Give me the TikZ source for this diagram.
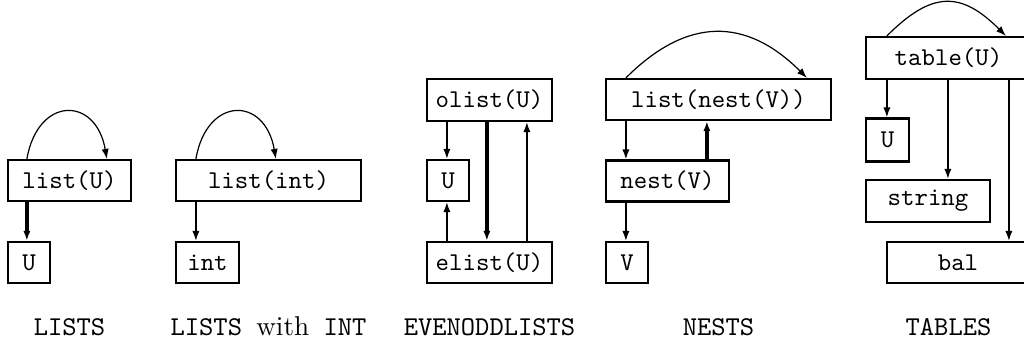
\documentclass[tikz,border=0pt]{standalone}
\usetikzlibrary{calc,arrows.meta}
\newcommand\bt[1]{\scalebox{1.28}{\fontsize{10}{12}\selectfont\ttfamily #1}}
\newcommand\lt[1]{\scalebox{1.36}{\fontsize{10}{12}\selectfont\ttfamily #1}}
\tikzset{
  box/.style={draw, line width=1.1pt, rectangle, inner sep=0pt, minimum height=20.5pt},
  lbl/.style={anchor=base, inner sep=0pt},
  thinarr/.style={-{Latex[length=5pt,width=3.6pt]}, line width=0.75pt},
  thickarr/.style={-{Latex[length=5pt,width=3.6pt]}, line width=1.6pt},
  looparr/.style={-{Latex[length=5pt,width=3.6pt]}, line width=0.6pt},
}
\begin{document}
\begin{tikzpicture}[x=0.5pt,y=-0.5pt]
\useasboundingbox (0,0) rectangle (1024,343);
\clip (0,0) rectangle (1024,343);
% LISTS
\node[box, minimum width=61.5pt] (listU) at (69.5,180.5) {\bt{list(U)}};
\node[box, minimum width=21pt] (U1) at (29,262.5) {\bt{U}};
\draw[thickarr] ($(listU.south west)+(20,0)$) -- ($(U1.north west)+(20,0)$);
\draw[looparr] ($(listU.north west)+(20,0)$) .. controls ($(listU.north west)+(31,-63)$) and ($(listU.north west)+(89,-63)$) .. ($(listU.north west)+(100,0)$);
\node[lbl] (l1) at (69.5,335) {\lt{LISTS}};
% LISTS with INT
\node[box, minimum width=92.5pt] (listint) at (268.5,180.5) {\bt{list(int)}};
\node[box, minimum width=31.5pt] (int) at (207.5,262.5) {\bt{int}};
\draw[thinarr] ($(listint.south west)+(21,0)$) -- ($(int.north west)+(21,0)$);
\draw[looparr] ($(listint.north west)+(21,0)$) .. controls ($(listint.north west)+(32,-63)$) and ($(listint.north west)+(90,-63)$) .. ($(listint.north west)+(101,0)$);
\node[lbl] (l2) at (268.5,335) {\lt{LISTS \textrm{with} INT}};
% EVENODDLISTS
\node[box, minimum width=62.5pt, minimum height=21pt] (olist) at (489.5,100) {\bt{olist(U)}};
\node[box, minimum width=21pt] (U2) at (448,180.5) {\bt{U}};
\node[box, minimum width=62.5pt] (elist) at (489.5,262.5) {\bt{elist(U)}};
\draw[thinarr] ($(olist.south west)+(21,0)$) -- ($(U2.north west)+(21,0)$);
\draw[thinarr] ($(elist.north west)+(21,0)$) -- ($(U2.south west)+(21,0)$);
\draw[thickarr] ($(olist.south west)+(61,0)$) -- ($(elist.north west)+(61,0)$);
\draw[thinarr] ($(elist.north west)+(101,0)$) -- ($(olist.south west)+(101,0)$);
\node[lbl] (l3) at (489.5,335) {\lt{EVENODDLISTS}};
% NESTS
\node[box, minimum width=112.5pt] (listnest) at (718.5,99.5) {\bt{list(nest(V))}};
\node[box, minimum width=61.5pt] (nest) at (667.5,181) {\bt{nest(V)}};
\node[box, minimum width=21pt] (V) at (627,262.5) {\bt{V}};
\draw[thinarr] ($(listnest.south west)+(21,0)$) -- ($(nest.north west)+(21,0)$);
\draw[thickarr] ($(nest.north west)+(102,0)$) -- ($(listnest.south west)+(102,0)$);
\draw[thinarr] ($(nest.south west)+(21,0)$) -- ($(V.north west)+(21,0)$);
\draw[looparr] ($(listnest.north west)+(21,0)$) .. controls ($(listnest.north west)+(82,-61)$) and ($(listnest.north west)+(141,-61)$) .. ($(listnest.north west)+(202,0)$);
\node[lbl] (l4) at (718.5,335) {\lt{NESTS}};
% TABLES
\node[box, minimum width=82.5pt, minimum height=21pt] (table) at (948.5,58) {\bt{table(U)}};
\node[box, minimum width=21.5pt, minimum height=21.5pt] (U3) at (887.5,140) {\bt{U}};
\node[box, minimum width=62pt, minimum height=21pt] (string) at (928,201) {\bt{string}};
\node[box, minimum width=71pt] (bal) at (958,262.5) {\bt{bal}};
\draw[thinarr] ($(table.south west)+(22,0)$) -- ($(U3.north west)+(22,0)$);
\draw[thinarr] ($(table.south west)+(83,0)$) coordinate (t2) -- (t2 |- string.north);
\draw[thinarr] ($(table.south west)+(144,0)$) coordinate (t3) -- (t3 |- bal.north);
\draw[looparr] ($(table.north west)+(22,0)$) .. controls ($(table.north west)+(67,-45)$) and ($(table.north west)+(96,-45)$) .. ($(table.north west)+(141,0)$);
\node[lbl] (l5) at (948.5,335) {\lt{TABLES}};
\end{tikzpicture}
\end{document}
